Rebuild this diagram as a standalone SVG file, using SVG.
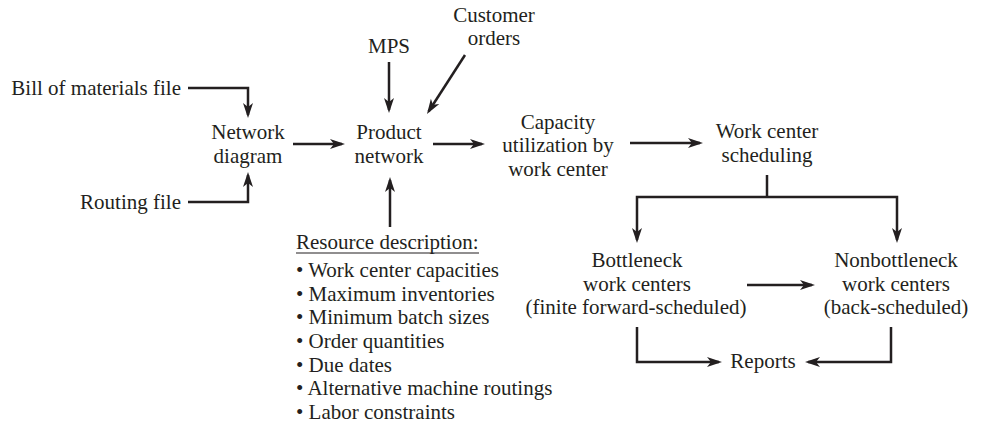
<svg xmlns="http://www.w3.org/2000/svg" width="984" height="424" viewBox="0 0 984 424">
<style>
text{font-family:"Liberation Serif","Times New Roman",serif;font-size:21px;fill:#231f20}
.c{text-anchor:middle}
.e{text-anchor:end}
.ln{fill:none;stroke:#231f20;stroke-width:2.5;marker-end:url(#ah)}
.pl{fill:none;stroke:#231f20;stroke-width:2.5}
</style>
<defs>
<marker id="ah" markerUnits="userSpaceOnUse" viewBox="-1 -6 17 12" markerWidth="17" markerHeight="12" refX="12" refY="0" orient="auto">
<path d="M0,-5 L15,0 L0,5 L4,0 Z" fill="#231f20"/>
</marker>
</defs>
<rect width="984" height="424" fill="#ffffff"/>
<g id="bom"><text class="e" x="181" y="95">Bill of materials file</text></g>
<g id="routing"><text class="e" x="181" y="209">Routing file</text></g>
<g id="network-diagram"><text class="c" x="248" y="139">Network</text><text class="c" x="248" y="163">diagram</text></g>
<g id="mps"><text class="c" x="389" y="53">MPS</text></g>
<g id="customer-orders"><text class="c" x="494" y="22">Customer</text><text class="c" x="494" y="45">orders</text></g>
<g id="product-network"><text class="c" x="389" y="139">Product</text><text class="c" x="389" y="163">network</text></g>
<g id="capacity"><text class="c" x="558" y="129">Capacity</text><text class="c" x="558" y="152">utilization by</text><text class="c" x="558" y="176">work center</text></g>
<g id="wcs"><text class="c" x="767" y="138">Work center</text><text class="c" x="767" y="162">scheduling</text></g>
<g id="resource">
<text x="296" y="249">Resource description:</text>
<line x1="296" y1="253" x2="479" y2="253" stroke="#231f20" stroke-width="1.2"/>
<text x="296" y="277">• Work center capacities</text>
<text x="296" y="300.7">• Maximum inventories</text>
<text x="296" y="324.3">• Minimum batch sizes</text>
<text x="296" y="348">• Order quantities</text>
<text x="296" y="371.7">• Due dates</text>
<text x="296" y="395.3">• Alternative machine routings</text>
<text x="296" y="419">• Labor constraints</text>
</g>
<g id="bottleneck"><text class="c" x="637" y="267">Bottleneck</text><text class="c" x="637" y="291">work centers</text><text class="c" x="636" y="314">(finite forward-scheduled)</text></g>
<g id="nonbottleneck"><text class="c" x="896" y="267">Nonbottleneck</text><text class="c" x="896" y="291">work centers</text><text class="c" x="896" y="314">(back-scheduled)</text></g>
<g id="reports"><text class="c" x="763" y="368">Reports</text></g>
<g id="connectors">
<path class="ln" d="M188,88 H248 V115"/>
<path class="ln" d="M188,202 H248 V175"/>
<path class="ln" d="M293,144 H342"/>
<path class="ln" d="M389,62 V110"/>
<path class="ln" d="M465,55 L428.6,111.5"/>
<path class="ln" d="M390,227 V180"/>
<path class="ln" d="M433,144 H482"/>
<path class="ln" d="M630,143 H700"/>
<path class="pl" d="M767,175 V197"/>
<path class="ln" d="M767,197 H637 V240"/>
<path class="ln" d="M767,197 H897 V240"/>
<path class="ln" d="M747,285 H812"/>
<path class="ln" d="M637,327 V362 H719"/>
<path class="ln" d="M891,327 V362 H808"/>
</g>
</svg>
